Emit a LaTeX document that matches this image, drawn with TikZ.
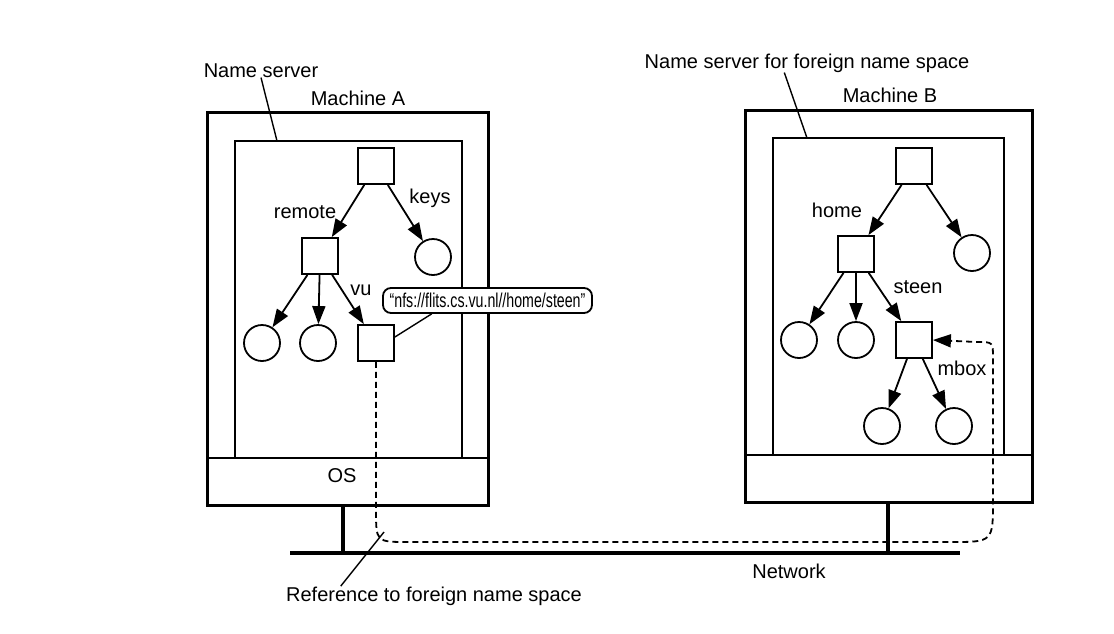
\documentclass[tikz,border=0pt]{standalone}
\usepackage{fontspec}
\setmainfont{Liberation Sans}
\newfontfamily\narrowfont[FakeStretch=0.71]{Liberation Sans}
\usetikzlibrary{arrows.meta, calc}

\begin{document}
\begin{tikzpicture}[
    x=0.5pt,
    y=-0.5pt,
    >={Triangle[length=9pt,width=6.5pt]},
    machine/.style={draw, line width=1.5pt, inner sep=0pt},
    server/.style={draw, line width=1pt, inner sep=0pt},
    osbox/.style={draw, line width=1.2pt, inner sep=0pt, minimum height=23.5pt},
    dir/.style={draw, line width=0.9pt, minimum size=18pt, inner sep=0pt},
    file/.style={draw, circle, line width=0.9pt, minimum size=18pt, inner sep=0pt},
    link/.style={->, line width=0.9pt},
    label/.style={anchor=base, inner sep=0pt},
    reference/.style={->, line width=0.9pt, dash pattern=on 3pt off 2pt},
    leader/.style={line width=0.7pt},
    mountpoint/.style={draw, line width=0.9pt, rounded corners=4pt, fill=white,
        inner sep=0pt, minimum width=104.5pt, minimum height=12.5pt, font=\narrowfont}
]

\useasboundingbox (0,0) rectangle (1114,633);

% =========================
% Machine A
% =========================
\node[machine, minimum width=140.5pt, minimum height=196.5pt] (machA) at (347.5,308.5) {};
\node[osbox, minimum width=140.5pt] (osA) at (347.5,481.5) {};
\node[server, minimum width=113.5pt, minimum height=158.5pt] (nsA) at (348.5,299.5) {};
\node[label] (osAlbl) at (342,482) {OS};
\node[label] (machAlbl) at (358,105) {Machine A};
\node[label] (nsAlbl) at (261,77) {Name server};
\coordinate (nsAtop) at (277,141);
\draw[leader] (nsAlbl.south) -- (nsAtop);

% Naming graph of A
\node[dir]  (rootA)   at (376,166) {};
\node[dir]  (remoteA) at (320,256) {};
\node[file] (keysA)   at (433,257) {};
\node[file] (fileA1)  at (262,343) {};
\node[file] (fileA2)  at (318,343) {};
\node[dir]  (vuA)     at (376,343) {};

\draw[link] (rootA) -- (remoteA);
\draw[link] (rootA) -- (keysA);
\draw[link] (remoteA) -- (fileA1);
\draw[link] (remoteA) -- (fileA2);
\draw[link] (remoteA) -- (vuA);

\node[label] (remoteLbl) at (305,218) {remote};
\node[label] (keysLbl)   at (430,203) {keys};
\node[label] (vuLbl)     at (361,295) {vu};

% =========================
% Machine B
% =========================
\node[machine, minimum width=143.5pt, minimum height=196pt] (machB) at (888.5,306) {};
\node[osbox, minimum width=143.5pt] (osB) at (888.5,478.5) {};
\node[server, minimum width=115.5pt, minimum height=158.5pt] (nsB) at (888.5,296.5) {};
\node[label] (machBlbl) at (890,102) {Machine B};
\node[label] (nsBlbl) at (807,68) {Name server for foreign name space};
\coordinate (nsBtop) at (807,138);
\draw[leader] ([xshift=70pt]nsBlbl.south west) -- (nsBtop);

% Naming graph of B
\node[dir]  (rootB)  at (914,166) {};
\node[dir]  (homeB)  at (856,254) {};
\node[file] (fileB1) at (972,253) {};
\node[file] (fileB2) at (799,340) {};
\node[file] (fileB3) at (856,340) {};
\node[dir]  (steenB) at (914,340) {};
\node[file] (fileB4) at (882,426) {};
\node[file] (fileB5) at (954,426) {};

\draw[link] (rootB) -- (homeB);
\draw[link] (rootB) -- (fileB1);
\draw[link] (homeB) -- (fileB2);
\draw[link] (homeB) -- (fileB3);
\draw[link] (homeB) -- (steenB);
\draw[link] (steenB) -- (fileB4);
\draw[link] (steenB) -- (fileB5);

\node[label] (homeLbl)  at (837,217) {home};
\node[label] (steenLbl) at (918,293) {steen};
\node[label] (mboxLbl)  at (962,375) {mbox};

% =========================
% Mount point and network
% =========================
\node[mountpoint] (url) at (487.5,300.5) {“nfs://flits.cs.vu.nl//home/steen”};
\draw[leader] ([yshift=3pt]vuA.east) -- ($(url.south west)!0.235!(url.south east)$);

\coordinate (netL) at (290,553);
\coordinate (netR) at (960,553);
\coordinate (netA) at (343,553);
\coordinate (netB) at (888,553);
\draw[line width=2.2pt] (netL) -- (netR);
\draw[line width=1.6pt] (osA.south -| netA) -- (netA);
\draw[line width=1.6pt] (osB.south -| netB) -- (netB);
\node[label] (netLbl) at (789,578) {Network};

% Reference to the foreign name space
\coordinate (bendA)  at (376,542);
\coordinate (bendA1) at (376,510);
\coordinate (bendA2) at (408,542);
\coordinate (bendB)  at (993,542);
\coordinate (bendB1) at (951,542);
\coordinate (bendB2) at (993,500);
\coordinate (bendC)  at (993,342);
\coordinate (bendC1) at (993,358);
\coordinate (bendC2) at (977,342);
\draw[reference] (vuA.south) -- (bendA1) .. controls (bendA) .. (bendA2)
    -- (bendB1) .. controls (bendB) .. (bendB2)
    -- (bendC1) .. controls (bendC) .. (bendC2) -- (steenB.east);

\node[label] (refLbl) at (434,601) {Reference to foreign name space};
\coordinate (refPt) at (384,532);
\draw[leader] ([xshift=27.5pt]refLbl.north west) -- (refPt);

\end{tikzpicture}
\end{document}
